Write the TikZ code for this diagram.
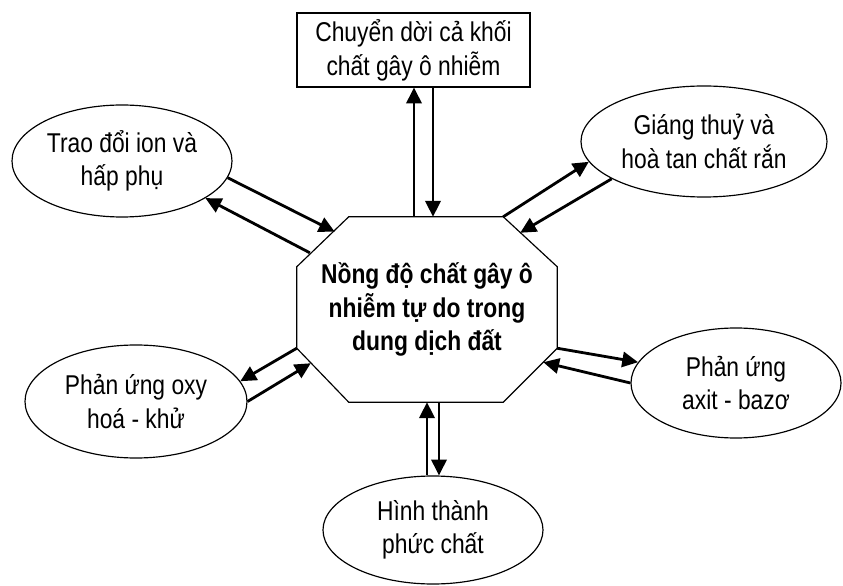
\documentclass[tikz,border=0pt]{standalone}
\usepackage{fontspec}
\setmainfont{Liberation Sans}[FakeStretch=0.84]
\usetikzlibrary{arrows.meta,calc,shapes.geometric}

\tikzset{
  procell/.style={draw,ellipse,line width=1pt,inner sep=0pt,align=center,
    font=\fontsize{23.2}{28.6}\selectfont},
  movebox/.style={draw,rectangle,line width=1pt,inner sep=0pt,align=center,
    minimum width=6.99cm,minimum height=2.22cm,font=\fontsize{23.2}{29}\selectfont},
  midtext/.style={inner sep=0pt,align=center,minimum width=7.8cm,minimum height=5.55cm,
    font=\fontsize{23.2}{28.4}\selectfont\bfseries},
  octline/.style={line width=1pt,line join=miter},
  flow/.style={line width=2.4pt,->}
}

\begin{document}
\begin{tikzpicture}[x=0.03cm,y=0.03cm,>={Triangle[length=13.5pt,width=13pt]}]
\useasboundingbox (0,0) rectangle (843,585);

% centre
\node[midtext] (conc) at (427,275.5) {Nồng độ chất gây ô\\nhiễm tự do trong\\dung dịch đất};
\draw[octline] ($(conc.north west)+(52,0)$) -- ($(conc.north east)+(-54,0)$)
  -- ($(conc.north east)+(0,-50)$) -- ($(conc.south east)+(0,54)$)
  -- ($(conc.south east)+(-54,0)$) -- ($(conc.south west)+(52,0)$)
  -- ($(conc.south west)+(0,54)$) -- ($(conc.north west)+(0,-50)$) -- cycle;

% processes
\node[movebox] (move) at (413.5,535) {Chuyển dời cả khối\\chất gây ô nhiễm};
\node[procell,minimum width=6.6cm,minimum height=3.36cm] (ion) at (122,424) {Trao đổi ion và\\hấp phụ};
\node[procell,minimum width=7.38cm,minimum height=3.33cm] (rain) at (704,443.5) {Giáng thuỷ và\\hoà tan chất rắn};
\node[procell,minimum width=6.66cm,minimum height=3.39cm] (redox) at (136,183.5) {Phản ứng oxy\\hoá - khử};
\node[procell,minimum width=6.3cm,minimum height=3.3cm] (acid) at (736,202) {Phản ứng\\axit - bazơ};
\node[procell,minimum width=6.6cm,minimum height=3.24cm] (cplx) at (433,55) {Hình thành\\phức chất};

% ends on the octagon
\coordinate (tUp) at ($(conc.north)+(-13,0)$);
\coordinate (tDn) at ($(conc.north)+(6,0)$);
\coordinate (ionIn) at ($(conc.north west)+(38,-15)$);
\coordinate (ionOut) at ($(conc.north west)+(13,-36)$);
\coordinate (rainOut) at ($(conc.north east)+(-54,0)$);
\coordinate (rainIn) at ($(conc.north east)+(-37,-16)$);
\coordinate (redoxOut) at ($(conc.south west)+(0,54)$);
\coordinate (redoxIn) at ($(conc.south west)+(14,39)$);
\coordinate (acidOut) at ($(conc.south east)+(0,54)$);
\coordinate (acidIn) at ($(conc.south east)+(-14,40)$);
\coordinate (bUp) at (conc.south);
\coordinate (bDn) at ($(conc.south)+(12,0)$);

% arrows
\draw[flow] (tUp) -- (tUp |- move.south);
\draw[flow] (tDn |- move.south) -- (tDn);
\draw[flow] (ion.-9) -- (ionIn);
\draw[flow] (ionOut) -- (ion.-24);
\draw[flow] (rainOut) -- (rain.190);
\draw[flow] (rain.202) -- (rainIn);
\draw[flow] (redoxOut) -- (redox.11);
\draw[flow] (redox.0) -- (redoxIn);
\draw[flow] (acidOut) -- (acid.168);
\draw[flow] (acid.180) -- (acidIn);
\draw[flow] (cplx.north -| bUp) -- (bUp);
\draw[flow] (bDn) -- (bDn |- cplx.north);
\end{tikzpicture}
\end{document}
